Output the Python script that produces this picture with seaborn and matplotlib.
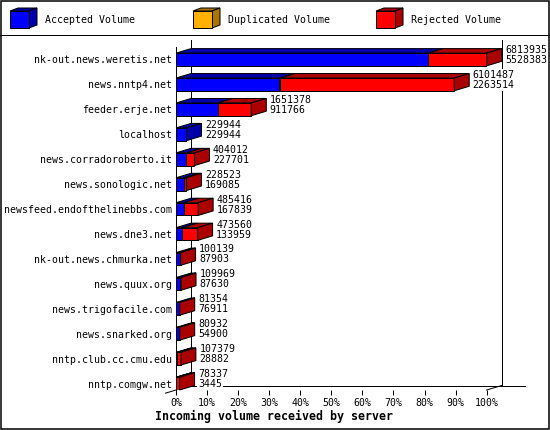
import numpy as np
import pandas as pd
import seaborn as sns
from matplotlib import pyplot as plt
from matplotlib.patches import Polygon, Rectangle

# values (bytes)
servers = ['nk-out.news.weretis.net', 'news.nntp4.net', 'feeder.erje.net',
           'localhost', 'news.corradoroberto.it', 'news.sonologic.net',
           'newsfeed.endofthelinebbs.com', 'news.dne3.net',
           'nk-out.news.chmurka.net', 'news.quux.org', 'news.trigofacile.com',
           'news.snarked.org', 'nntp.club.cc.cmu.edu', 'nntp.comgw.net']
total = [6813935, 6101487, 1651378, 229944, 404012, 228523, 485416,
         473560, 100139, 109969, 81354, 80932, 107379, 78337]
accepted = [5528383, 2263514, 911766, 229944, 227701, 169085, 167839,
            133959, 87903, 87630, 76911, 54900, 28882, 3445]
duplicated = [0, 25000, 0, 0, 0, 0, 0, 0, 0, 0, 0, 0, 0, 0]
legend_names = ['Accepted Volume', 'Duplicated Volume', 'Rejected Volume']
pct_labels = ['%d%%' % p for p in range(0, 101, 10)]

BLUE, BLUE_D = '#0000ff', '#0000aa'
ORANGE, ORANGE_D = '#ffb000', '#aa7600'
RED, RED_D = '#ff0000', '#aa0000'
LW = 0.72  # 1 px

plt.rcParams['font.family'] = ['DejaVu Sans Mono']
FS = 7.1

df = pd.DataFrame({'server': servers, 'total': total,
                   'acc': accepted, 'dup': duplicated})
df['acc_dup'] = df['acc'] + df['dup']

W, H = 550, 430
fig = plt.figure(figsize=(W / 100, H / 100), dpi=100)

# background / frame / legend in pixel coordinates
bg = fig.add_axes([0, 0, 1, 1], zorder=0)
bg.set_xlim(0, W)
bg.set_ylim(H, 0)
bg.axis('off')
bg.add_patch(Rectangle((0.5, 0.5), 548, 428, fill=False, ec='black', lw=1.1))
bg.plot([0, 549], [35, 35], color='black', lw=LW)
for k, (name, c, cd) in enumerate(zip(legend_names, [BLUE, ORANGE, RED],
                                      [BLUE_D, ORANGE_D, RED_D])):
    x0 = 10 + 183 * k
    bg.add_patch(Polygon([(x0, 11), (x0 + 19, 11), (x0 + 27, 8), (x0 + 8, 8)],
                         fc=cd, ec='black', lw=LW))
    bg.add_patch(Polygon([(x0 + 19, 11), (x0 + 19, 28), (x0 + 27, 25), (x0 + 27, 8)],
                         fc=cd, ec='black', lw=LW))
    bg.add_patch(Rectangle((x0, 11), 19, 17, fc=c, ec='black', lw=LW))
    bg.text(x0 + 35, 20, name, fontsize=FS, va='center', ha='left')

# main plot area
AX_L, AX_R, AX_T, AX_B = 176, 486.7, 47, 390
BAR_H = 0.51
N = len(servers)
ax = fig.add_axes([AX_L / W, 1 - AX_B / H, (AX_R - AX_L) / W, (AX_B - AX_T) / H],
                  zorder=1)
ax.set_facecolor('none')

XMAX = max(total)
ROW_PX = (AX_B - AX_T) / (N - 1 + BAR_H / 2 + 0.5)
DX_PX, DY_PX = 15, 4.5
dx = DX_PX * XMAX / (AX_R - AX_L)
dy = DY_PX / ROW_PX
ybot = N - 1 + BAR_H / 2

# front faces, stacked by drawing the longer bars first
for col, c in [('total', RED), ('acc_dup', ORANGE), ('acc', BLUE)]:
    sns.barplot(data=df, x=col, y='server', orient='h', color=c, saturation=1,
                width=BAR_H, edgecolor='black', linewidth=LW, ax=ax, zorder=3)

# top and side faces, value labels
for i in range(N):
    t, a, ad = df['total'][i], df['acc'][i], df['acc_dup'][i]
    yt, yb = i - BAR_H / 2, i + BAR_H / 2
    segs = [(0, a, BLUE_D), (a, ad, ORANGE_D), (ad, t, RED_D)]
    segs = [s for s in segs if s[1] > s[0]]
    for x0, x1, cd in segs:
        ax.add_patch(Polygon([(x0, yt), (x1, yt), (x1 + dx, yt - dy), (x0 + dx, yt - dy)],
                             fc=cd, ec='black', lw=LW, zorder=3, clip_on=False))
    x1, cd = segs[-1][1], segs[-1][2]
    ax.add_patch(Polygon([(x1, yt), (x1, yb), (x1 + dx, yb - dy), (x1 + dx, yt - dy)],
                         fc=cd, ec='black', lw=LW, zorder=3, clip_on=False))
    for txt, off in [(t, 9.5), (a, -0.5)]:
        ax.annotate(str(txt), xy=(t, i), xytext=(DX_PX + 3.5, off),
                    textcoords='offset pixels', fontsize=FS, va='center', ha='left',
                    bbox=dict(fc='white', ec='none', pad=0.6), zorder=5,
                    annotation_clip=False)

# walls and floor
ytop_wall = -0.5 - 7 / ROW_PX
for xw in [dx, XMAX + dx]:
    ax.plot([xw, xw], [ytop_wall, ybot - dy], color='black', lw=LW,
            zorder=1, clip_on=False)
floor_end = XMAX + (525 - AX_R) * XMAX / (AX_R - AX_L)
ax.plot([dx, floor_end], [ybot - dy, ybot - dy], color='black', lw=LW,
        zorder=1, clip_on=False)
ax.plot([-0.7 * dx, dx], [ybot + 0.7 * dy, ybot - dy], color='black', lw=LW,
        zorder=1, clip_on=False)
ax.plot([XMAX, XMAX + dx], [ybot, ybot - dy], color='black', lw=LW,
        zorder=1, clip_on=False)

ax.set_xlim(0, XMAX)
ax.set_ylim(ybot, -0.5)
ax.set_xticks(np.linspace(0, XMAX, 11))
ax.set_xticklabels(pct_labels, fontsize=FS)
ax.tick_params(axis='x', length=3.6, width=LW, pad=2, color='black')
ax.tick_params(axis='y', length=0, pad=3, labelsize=FS)
ax.set_xlabel('')
ax.set_ylabel('')
for s in ['top', 'right', 'bottom']:
    ax.spines[s].set_visible(False)
ax.spines['left'].set_linewidth(LW)
ax.spines['left'].set_color('black')

fig.text(155 / W, 1 - 416 / H, 'Incoming volume received by server',
         fontsize=8.4, fontweight='bold', va='center', ha='left')

fig.savefig('out.png', dpi=100)
